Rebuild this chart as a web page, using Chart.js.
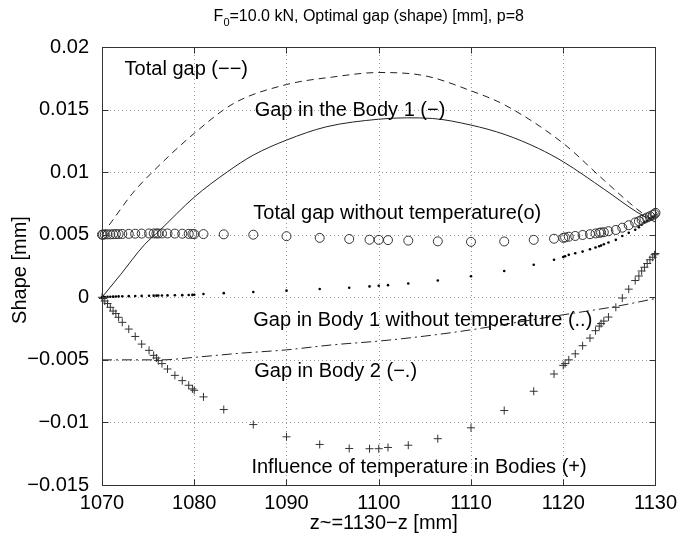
<!DOCTYPE html>
<html>
<head>
<meta charset="utf-8">
<script src="https://cdn.jsdelivr.net/npm/chart.js@4.4.1/dist/chart.umd.min.js"></script>
<style>
  html, body { margin: 0; padding: 0; background: #fff; }
</style>
</head>
<body>
<canvas id="chart" width="683" height="536"></canvas>
<script>
// axis ticks
const xTicks = [1070, 1080, 1090, 1100, 1110, 1120, 1130];
const xTickLabels = ['1070', '1080', '1090', '1100', '1110', '1120', '1130'];
const yTicks = [-0.015, -0.01, -0.005, 0, 0.005, 0.01, 0.015, 0.02];
const yTickLabels = ['\u22120.015', '\u22120.01', '\u22120.005', '0', '0.005', '0.01', '0.015', '0.02'];

// nodes where the marker series are sampled
const zNodes = [1070, 1070.1, 1070.3, 1070.6, 1070.9, 1071.2, 1071.5, 1071.8, 1072.2,
  1072.9, 1073.6, 1074.3, 1075.1, 1075.6, 1075.9, 1076.1, 1076.5, 1077.1, 1077.9, 1078.7, 1079.4, 1079.8, 1080,
  1081, 1083.2, 1086.4, 1090, 1093.6, 1096.8, 1099, 1100,
  1101, 1103.2, 1106.4, 1110, 1113.6, 1116.8, 1119, 1120,
  1120.2, 1120.6, 1121.3, 1122.1, 1122.9, 1123.5, 1123.9, 1124.1, 1124.4, 1124.9, 1125.7, 1126.4, 1127.1, 1127.8,
  1128.2, 1128.5, 1128.8, 1129.1, 1129.4, 1129.7, 1129.9, 1130];

// Total gap without temperature (o)
const totalNoTemp = [0.005, 0.00501, 0.00502, 0.00503, 0.00503, 0.00504, 0.00505, 0.00505, 0.00506,
  0.00507, 0.00508, 0.00509, 0.0051, 0.0051, 0.0051, 0.0051, 0.0051, 0.0051, 0.00509, 0.00508, 0.00507, 0.00506, 0.00505,
  0.00505, 0.00503, 0.005, 0.00488, 0.00475, 0.00466, 0.0046, 0.00459,
  0.00457, 0.00453, 0.00447, 0.00443, 0.00446, 0.00459, 0.00468, 0.00475,
  0.00478, 0.00484, 0.0049, 0.00498, 0.00504, 0.0051, 0.00515, 0.00518, 0.0052, 0.00528, 0.00538, 0.00556, 0.00576, 0.00598,
  0.00608, 0.00618, 0.00628, 0.00638, 0.00648, 0.00658, 0.00664, 0.00675];

// Gap in Body 1 without temperature (..)
const body1NoTemp = [0, 0.00001, 0.00002, 0.00003, 0.00004, 0.00005, 0.00006, 0.00007, 0.00008,
  0.00009, 0.0001, 0.00011, 0.00012, 0.00013, 0.00013, 0.00014, 0.00014, 0.00015, 0.00016, 0.00017, 0.00018, 0.00019, 0.0002,
  0.00026, 0.00033, 0.00042, 0.00053, 0.00066, 0.00076, 0.00087, 0.00092,
  0.00097, 0.0011, 0.00134, 0.00168, 0.0021, 0.0026, 0.003, 0.00322,
  0.00328, 0.00339, 0.00352, 0.00365, 0.00384, 0.00398, 0.00408, 0.00414, 0.00424, 0.00438, 0.00459, 0.0049, 0.00515, 0.0054,
  0.0056, 0.0058, 0.006, 0.0061, 0.0063, 0.0064, 0.0065, 0.0066];

// Influence of temperature in Bodies (+)
const tempInfluence = [0, -0.0001, -0.0003, -0.0005, -0.0008, -0.0011, -0.0013, -0.0016, -0.002,
  -0.00254, -0.00313, -0.00374, -0.00424, -0.00464, -0.00485, -0.00506, -0.0053, -0.00573, -0.00624, -0.00666, -0.00703, -0.00732, -0.00743,
  -0.00796, -0.00897, -0.01017, -0.01115, -0.01176, -0.01208, -0.0121, -0.0121,
  -0.012, -0.01182, -0.0113, -0.01043, -0.00905, -0.00751, -0.00613, -0.00544,
  -0.0053, -0.005, -0.00452, -0.00387, -0.00326, -0.00267, -0.0023, -0.0021, -0.0019, -0.00158, -0.0008, -0.00006, 0.00065, 0.00134,
  0.0017, 0.0021, 0.0024, 0.0027, 0.003, 0.0032, 0.0034, 0.0035];

// Total gap (--)
const totalZ = [1070, 1071, 1073.3, 1075.5, 1080, 1084.3, 1090, 1095, 1100, 1105, 1110, 1113.7, 1120, 1124.5, 1128.8, 1130];
const totalGap = [0.005, 0.006, 0.0083, 0.01003, 0.0131, 0.0155, 0.017, 0.0176, 0.01796, 0.0177, 0.0165, 0.01535, 0.0123, 0.0093, 0.0066, 0.0061];

// Gap in the Body 1 (-)
const body1Z = [1070, 1072, 1074.6, 1076.2, 1080, 1083.6, 1086.4, 1090, 1094.3, 1100, 1103, 1105.8, 1110, 1113.7, 1117.3, 1120, 1124.5, 1128, 1130];
const body1Gap = [0, 0.0018, 0.0042, 0.0053, 0.008, 0.01003, 0.01136, 0.01256, 0.01362, 0.01423, 0.01434, 0.01429, 0.01376, 0.013, 0.0119, 0.01083, 0.0086, 0.0068, 0.006];

// Gap in Body 2 (-.)
const body2Z = [1070, 1076.5, 1080, 1085, 1090, 1095, 1100, 1105, 1110, 1115, 1120, 1125.7, 1130];
const body2Gap = [-0.005, -0.005, -0.0048, -0.00447, -0.0042, -0.0038, -0.0035, -0.0031, -0.0026, -0.002, -0.0014, -0.00073, -0.0001];

const notes = [
  { text: 'Total gap (\u2212\u2212)', x: 1072.45, y: 0.0182 },
  { text: 'Gap in the Body 1 (\u2212)', x: 1086.55, y: 0.0149 },
  { text: 'Total gap without temperature(o)', x: 1086.4, y: 0.0067 },
  { text: 'Gap in Body 1 without temperature (..)', x: 1086.4, y: -0.00185 },
  { text: 'Gap in Body 2 (\u2212.)', x: 1086.5, y: -0.0059 },
  { text: 'Influence of temperature in Bodies (+)', x: 1086.2, y: -0.0136 }
];

const FONT = '"Liberation Sans", Arial, Helvetica, sans-serif';
const pts = (xs, ys) => xs.map((x, i) => ({ x: x, y: ys[i] }));

const frame = {
  id: 'frame',
  beforeDatasetsDraw(chart) {
    const { ctx, chartArea: a, scales: { x, y } } = chart;
    ctx.save();
    ctx.strokeStyle = '#9a9a9a';
    ctx.lineWidth = 1;
    ctx.setLineDash([1, 3]);
    xTicks.slice(1, -1).forEach(v => {
      const px = Math.round(x.getPixelForValue(v)) + 0.5;
      ctx.beginPath(); ctx.moveTo(px, a.top); ctx.lineTo(px, a.bottom); ctx.stroke();
    });
    yTicks.slice(1, -1).forEach(v => {
      const py = Math.round(y.getPixelForValue(v)) + 0.5;
      ctx.beginPath(); ctx.moveTo(a.left, py); ctx.lineTo(a.right, py); ctx.stroke();
    });
    ctx.restore();
  },
  afterDraw(chart) {
    const { ctx, chartArea: a, scales: { x, y } } = chart;
    ctx.save();
    // box and inward ticks
    ctx.strokeStyle = '#333';
    ctx.lineWidth = 1;
    ctx.setLineDash([]);
    const L = Math.round(a.left) + 0.5, R = Math.round(a.right) + 0.5;
    const T = Math.round(a.top) + 0.5, B = Math.round(a.bottom) + 0.5;
    ctx.strokeRect(L, T, R - L, B - T);
    ctx.beginPath();
    xTicks.forEach(v => {
      const px = Math.round(x.getPixelForValue(v)) + 0.5;
      ctx.moveTo(px, B); ctx.lineTo(px, B - 6);
      ctx.moveTo(px, T); ctx.lineTo(px, T + 6);
    });
    yTicks.forEach(v => {
      const py = Math.round(y.getPixelForValue(v)) + 0.5;
      ctx.moveTo(L, py); ctx.lineTo(L + 6, py);
      ctx.moveTo(R, py); ctx.lineTo(R - 6, py);
    });
    ctx.stroke();

    // notes inside the axes
    ctx.fillStyle = '#000';
    ctx.font = '20px ' + FONT;
    ctx.textAlign = 'left';
    ctx.textBaseline = 'middle';
    notes.forEach(n => ctx.fillText(n.text, x.getPixelForValue(n.x), y.getPixelForValue(n.y)));

    // title with subscript
    const cx = (a.left + a.right) / 2;
    const rest = '=10.0 kN, Optimal gap (shape) [mm], p=8';
    ctx.textBaseline = 'alphabetic';
    ctx.font = '16px ' + FONT;
    const wF = ctx.measureText('F').width;
    const wRest = ctx.measureText(rest).width;
    ctx.font = '11px ' + FONT;
    const wSub = ctx.measureText('0').width;
    let tx = cx - 10 - (wF + wSub + wRest) / 2;
    ctx.font = '16px ' + FONT;
    ctx.fillText('F', tx, 21);
    ctx.font = '11px ' + FONT;
    ctx.fillText('0', tx + wF, 26);
    ctx.font = '16px ' + FONT;
    ctx.fillText(rest, tx + wF + wSub, 21);

    // axis titles
    ctx.font = '20px ' + FONT;
    ctx.textAlign = 'center';
    ctx.textBaseline = 'middle';
    ctx.fillText('z~=1130\u2212z [mm]', cx + 5, 523);
    ctx.translate(20, (a.top + a.bottom) / 2 + 4);
    ctx.rotate(-Math.PI / 2);
    ctx.fillText('Shape [mm]', 0, 0);
    ctx.restore();
  }
};

const lineStyle = { showLine: true, pointRadius: 0, borderWidth: 1, borderColor: '#222', cubicInterpolationMode: 'monotone' };

new Chart(document.getElementById('chart'), {
  type: 'scatter',
  data: {
    datasets: [
      Object.assign({ label: 'Total gap', data: pts(totalZ, totalGap), borderDash: [7, 5] }, lineStyle),
      Object.assign({ label: 'Gap in the Body 1', data: pts(body1Z, body1Gap) }, lineStyle),
      Object.assign({ label: 'Gap in Body 2', data: pts(body2Z, body2Gap), borderDash: [10, 4, 2, 4] }, lineStyle),
      { label: 'Total gap without temperature', data: pts(zNodes, totalNoTemp), pointStyle: 'circle', pointRadius: 4.5,
        borderColor: '#333', borderWidth: 1, backgroundColor: 'rgba(0,0,0,0)' },
      { label: 'Gap in Body 1 without temperature', data: pts(zNodes, body1NoTemp), pointStyle: 'circle', pointRadius: 1.3,
        borderWidth: 0, backgroundColor: '#000' },
      { label: 'Influence of temperature', data: pts(zNodes, tempInfluence), pointStyle: 'cross', pointRadius: 4,
        borderColor: '#333', borderWidth: 1 }
    ]
  },
  options: {
    responsive: false,
    animation: false,
    devicePixelRatio: 1,
    layout: { padding: { top: 47, right: 24, left: 0, bottom: 0 } },
    plugins: { legend: { display: false }, title: { display: false }, tooltip: { enabled: false } },
    datasets: { scatter: { clip: 8 } },
    scales: {
      x: {
        type: 'linear', min: 1070, max: 1130,
        grid: { display: false, drawTicks: false },
        border: { display: false },
        afterBuildTicks: s => { s.ticks = xTicks.map(v => ({ value: v })); },
        afterFit: s => { s.height = 51; },
        ticks: { padding: 6, maxRotation: 0, autoSkip: false, color: '#000', font: { size: 20, family: FONT },
          callback: (v, i) => xTickLabels[i] }
      },
      y: {
        type: 'linear', min: -0.015, max: 0.02,
        grid: { display: false, drawTicks: false },
        border: { display: false },
        afterBuildTicks: s => { s.ticks = yTicks.map(v => ({ value: v })); },
        afterFit: s => { s.width = 102; },
        ticks: { padding: 13, autoSkip: false, color: '#000', font: { size: 20, family: FONT },
          callback: (v, i) => yTickLabels[i] }
      }
    }
  },
  plugins: [frame]
});
</script>
</body>
</html>
